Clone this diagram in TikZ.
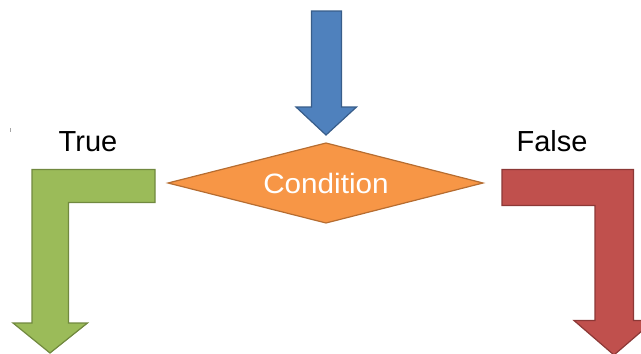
\documentclass[tikz,border=0pt]{standalone}
\usepackage{fontspec}
\setmainfont{Liberation Sans}
\definecolor{bluefill}{HTML}{4F81BD}
\definecolor{blueline}{HTML}{385D8A}
\definecolor{orangefill}{HTML}{F79646}
\definecolor{orangeline}{HTML}{B66D31}
\definecolor{greenfill}{HTML}{9BBB59}
\definecolor{greenline}{HTML}{71893F}
\definecolor{redfill}{HTML}{C0504D}
\definecolor{redline}{HTML}{8C3836}
\begin{document}
\begin{tikzpicture}[x=1pt,y=-1pt,
  fatarrow/.style={line width=1.2pt, line join=miter},
  lbl/.style={font=\fontsize{29}{34}\selectfont, text=black, inner sep=0pt},
  condtext/.style={font=\fontsize{28}{33}\selectfont, text=white, inner sep=0pt}]
\useasboundingbox (0,0) rectangle (641,354);
% incoming arrow
\draw[fatarrow, fill=bluefill, draw=blueline]
  (311.5,11) -- (341.5,11) -- (341.5,107) -- (356.5,107) -- (326,135)
  -- (296,107) -- (311.5,107) -- cycle;
% condition diamond
\coordinate (c) at (326,183);
\draw[fatarrow, fill=orangefill, draw=orangeline]
  (326,143) -- (483,183) -- (326,223) -- (168,183) -- cycle;
\node[condtext, xscale=1.06] (cond) at (c) {Condition};
% true branch
\draw[fatarrow, fill=greenfill, draw=greenline]
  (155,169.5) -- (32,169.5) -- (32,323) -- (13,323) -- (50,353)
  -- (87.5,323) -- (68.5,323) -- (68.5,202.5) -- (155,202.5) -- cycle;
\node[lbl] (true) at (88,141.5) {True};
% false branch
\draw[fatarrow, fill=redfill, draw=redline]
  (502,169.5) -- (633.5,169.5) -- (633.5,320.5) -- (654,320.5) -- (614,355)
  -- (574,320.5) -- (595,320.5) -- (595,205.5) -- (502,205.5) -- cycle;
\node[lbl] (false) at (552,141.5) {False};
% small mark
\draw[gray!70, line width=0.8pt] (10.5,128) -- (10.5,132);
\end{tikzpicture}
\end{document}
